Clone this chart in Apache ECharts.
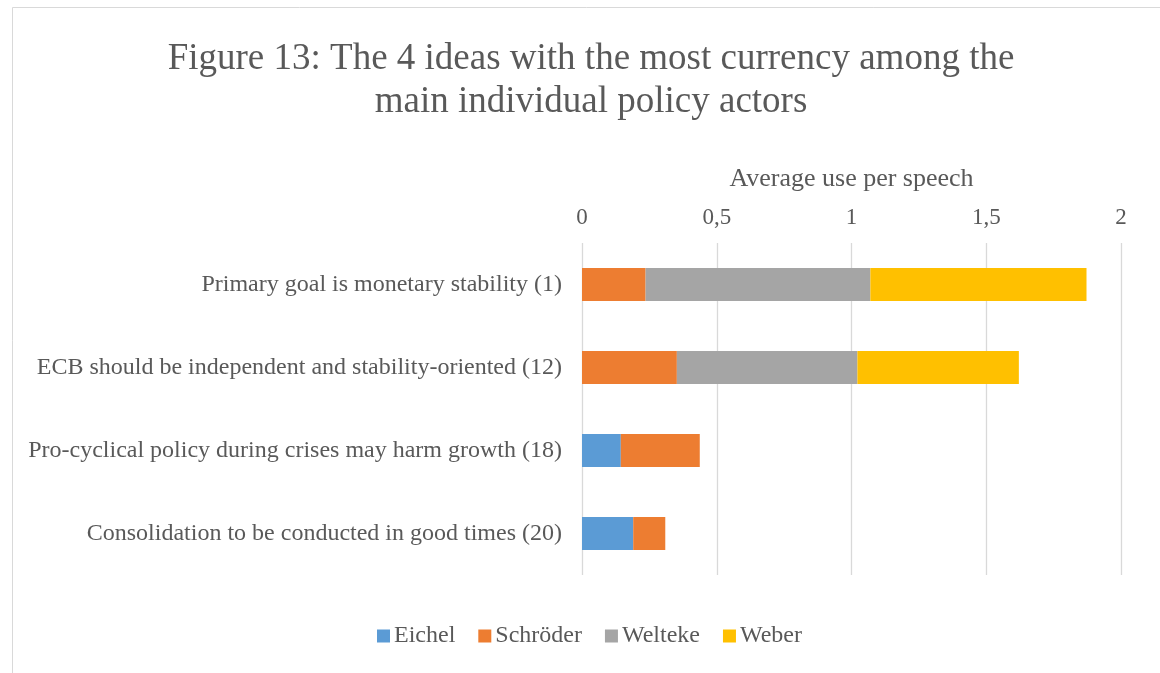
<!DOCTYPE html>
<html>
<head>
<meta charset="utf-8">
<script src="https://cdn.jsdelivr.net/npm/echarts@6/dist/echarts.min.js"></script>
<style>
  html, body { margin: 0; padding: 0; background: #ffffff; }
  #chart { width: 1160px; height: 673px; }
</style>
</head>
<body>
<div id="chart"></div>
<script>
// Ideas, listed top to bottom
const categories = [
  'Primary goal is monetary stability (1)',
  'ECB should be independent and stability-oriented (12)',
  'Pro-cyclical policy during crises may harm growth (18)',
  'Consolidation to be conducted in good times (20)'
];

// Average use per speech, per actor
const eichel   = [0,     0,     0.144, 0.190];
const schroder = [0.236, 0.352, 0.293, 0.119];
const welteke  = [0.834, 0.670, 0,     0];
const weber    = [0.802, 0.599, 0,     0];

const xTicks = [0, 0.5, 1, 1.5, 2];

const seriesNames = ['Eichel', 'Schröder', 'Welteke', 'Weber'];
const seriesData = [eichel, schroder, welteke, weber];
const colors = ['#5B9BD5', '#ED7D31', '#A5A5A5', '#FFC000'];

const FONT = '"Liberation Serif", "Times New Roman", serif';
const TEXT = '#595959';

const chart = echarts.init(document.getElementById('chart'), null, { renderer: 'canvas' });

chart.setOption({
  backgroundColor: '#ffffff',
  animation: false,
  color: colors,
  graphic: [{
    type: 'rect',
    shape: { x: 12.5, y: 7.5, width: 1200, height: 720 },
    style: { fill: 'none', stroke: '#d9d9d9', lineWidth: 1 },
    silent: true,
    z: -1
  }],
  title: {
    text: 'Figure 13: The 4 ideas with the most currency among the\nmain individual policy actors',
    left: 586,
    textAlign: 'center',
    top: 33,
    textStyle: {
      fontFamily: FONT,
      fontSize: 37,
      fontWeight: 'normal',
      color: TEXT,
      lineHeight: 43
    }
  },
  legend: {
    bottom: 20,
    left: 372,
    itemWidth: 13,
    itemHeight: 13,
    itemGap: 23,
    icon: 'rect',
    textStyle: { fontFamily: FONT, fontSize: 24, color: TEXT, padding: [0, 0, 0, -1] },
    data: seriesNames
  },
  grid: {
    left: 582,
    right: 39,
    top: 243,
    bottom: 98,
    containLabel: false
  },
  xAxis: {
    type: 'value',
    position: 'top',
    min: xTicks[0],
    max: xTicks[xTicks.length - 1],
    interval: xTicks[1] - xTicks[0],
    name: 'Average use per speech',
    nameLocation: 'middle',
    nameGap: 51,
    nameTextStyle: { fontFamily: FONT, fontSize: 26, color: TEXT },
    axisLine: { show: false },
    axisTick: { show: false },
    axisLabel: {
      fontFamily: FONT,
      fontSize: 23,
      color: TEXT,
      margin: 14,
      formatter: v => String(v).replace('.', ',')
    },
    splitLine: { show: true, lineStyle: { color: '#d9d9d9', width: 1.3 } }
  },
  yAxis: {
    type: 'category',
    inverse: true,
    data: categories,
    axisLine: { show: false },
    axisTick: { show: false },
    axisLabel: {
      fontFamily: FONT,
      fontSize: 24,
      color: TEXT,
      margin: 20
    }
  },
  series: seriesNames.map((name, i) => ({
    name: name,
    type: 'bar',
    stack: 'total',
    barWidth: 33,
    data: seriesData[i],
    itemStyle: { color: colors[i] }
  }))
});
</script>
</body>
</html>
